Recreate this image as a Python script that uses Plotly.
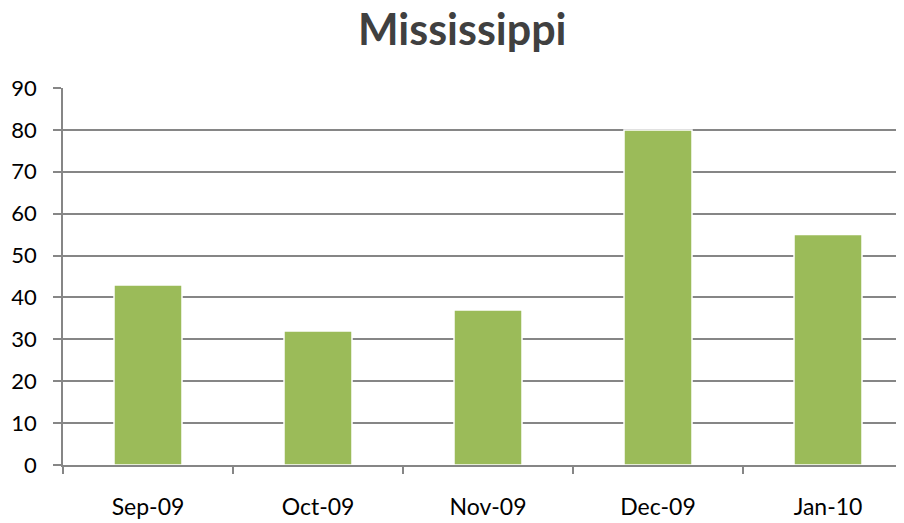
import plotly.graph_objects as go

months = ["Sep-09", "Oct-09", "Nov-09", "Dec-09", "Jan-10"]
values = [43, 32, 37, 80, 55]
y_ticks = [0, 10, 20, 30, 40, 50, 60, 70, 80, 90]

fig = go.Figure()
fig.add_trace(go.Bar(
    x=months, y=values,
    marker=dict(color="#9BBB59", line=dict(color="#FFFFFF", width=1.5)),
    width=0.4,
))

fig.update_layout(
    width=896, height=515,
    paper_bgcolor="white", plot_bgcolor="white",
    margin=dict(l=55, r=0, t=80, b=58),
    showlegend=False,
    title=dict(text="<b>Mississippi</b>", x=0.507, xanchor="center", y=0.958, yanchor="middle",
               font=dict(family="Lato", size=43, color="#404040")),
    font=dict(family="Lato", color="#000000"),
)
fig.update_xaxes(
    range=[-0.5, 4.447], automargin=False,
    showline=True, linecolor="#868686", linewidth=1.5,
    ticks="outside", tickson="boundaries", ticklen=7, tickcolor="#868686", tickwidth=1.5,
    tickfont=dict(family="Lato", size=23, color="#000000"),
    ticklabelstandoff=21,
    showgrid=False,
)
fig.update_yaxes(
    range=[0, 90], tickvals=y_ticks, automargin=False,
    showline=True, linecolor="#868686", linewidth=1.5,
    ticks="outside", ticklen=8, tickcolor="#868686", tickwidth=1.5,
    tickfont=dict(family="Lato", size=22, color="#000000"),
    ticklabelstandoff=12,
    showgrid=True, gridcolor="#868686", gridwidth=1.5,
    zeroline=False,
)

fig.write_html("out.html")
